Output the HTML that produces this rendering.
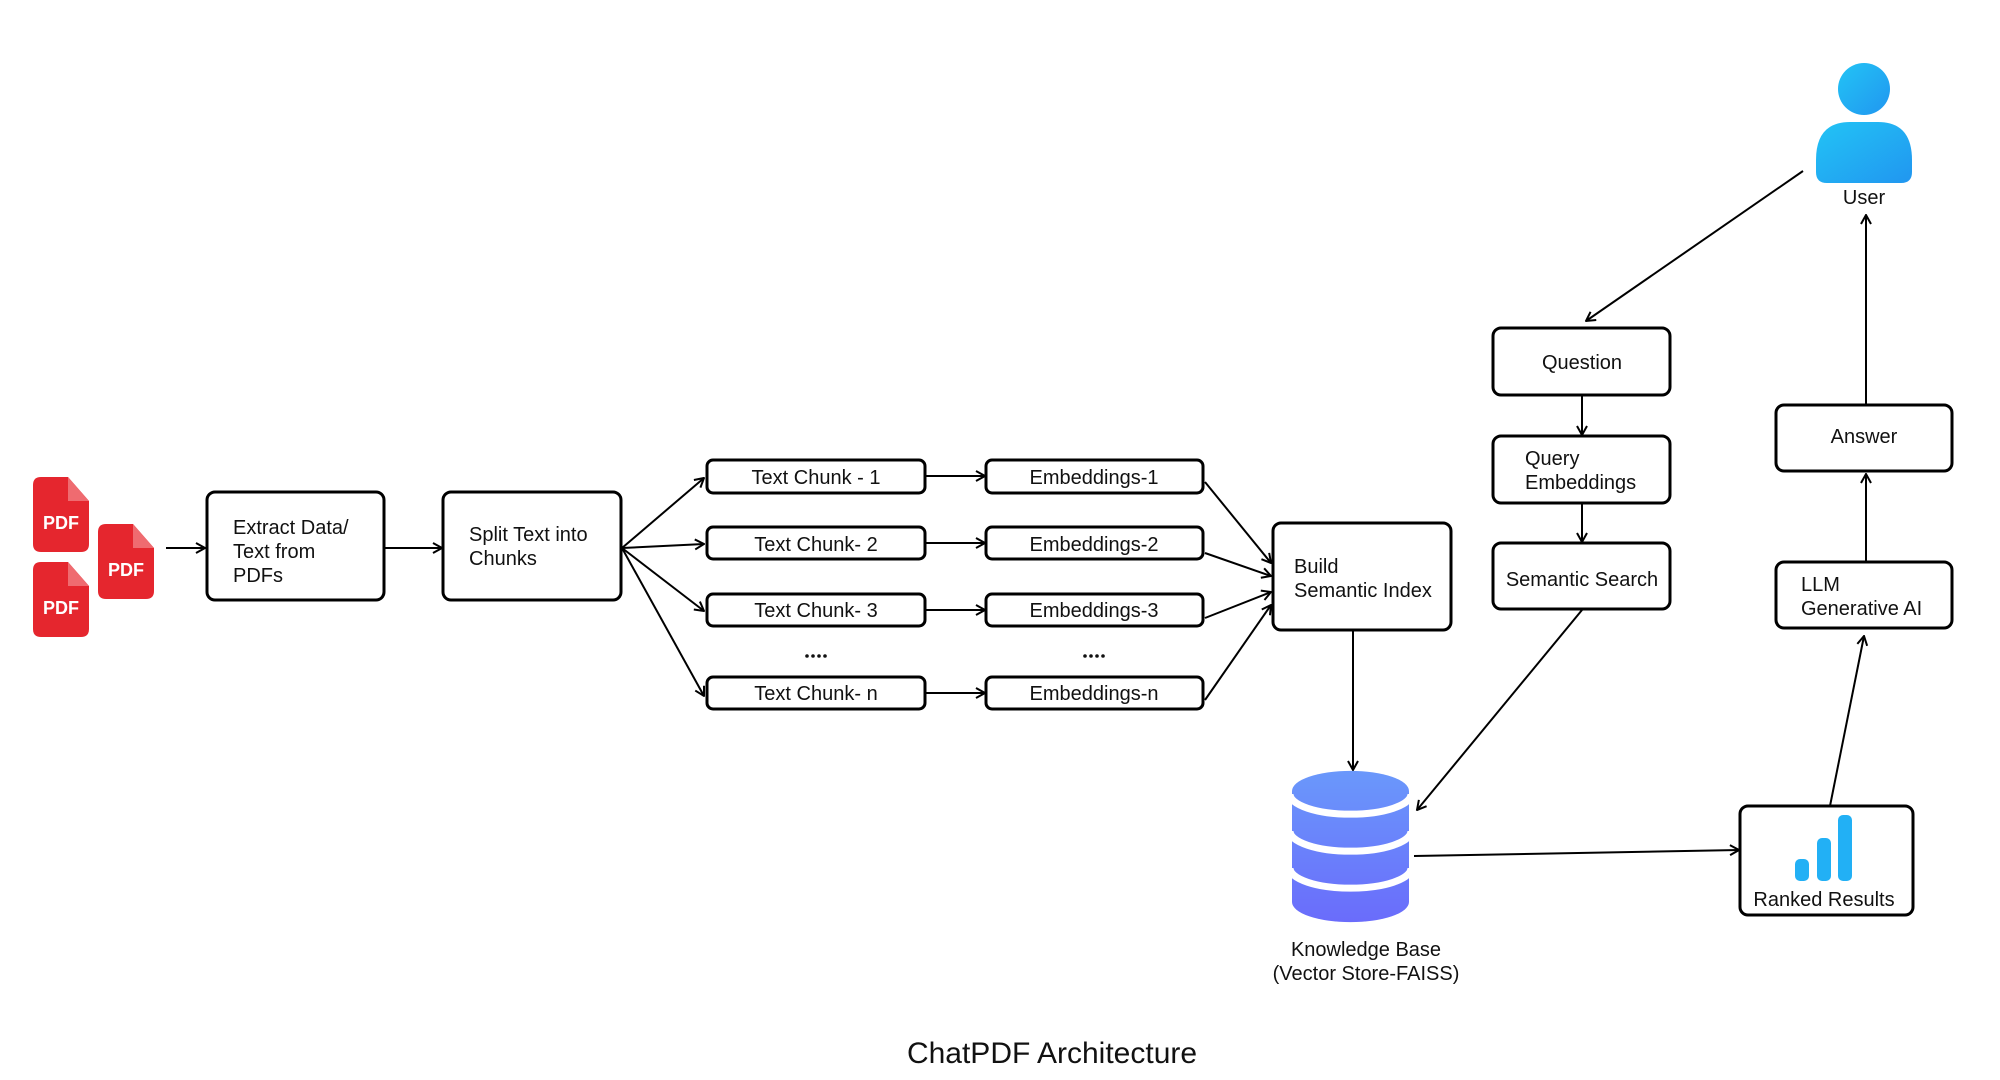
<!DOCTYPE html>
<html><head><meta charset="utf-8"><style>
html,body{margin:0;padding:0;background:#fff;}
svg{display:block;}
text{font-family:"Liberation Sans",sans-serif;fill:#111;}
</style></head><body>
<svg width="2000" height="1080" viewBox="0 0 2000 1080" xmlns="http://www.w3.org/2000/svg">
<defs>
<marker id="a" viewBox="0 0 12 12" refX="11" refY="6" markerWidth="12" markerHeight="12" markerUnits="userSpaceOnUse" orient="auto">
<path d="M2,1 L11,6 L2,11" fill="none" stroke="#000" stroke-width="2"/>
</marker>
<linearGradient id="db" x1="0" y1="0" x2="0" y2="1"><stop offset="0" stop-color="#6a98fb"/><stop offset="1" stop-color="#6a6cfb"/></linearGradient>
<linearGradient id="us" x1="0" y1="0" x2="1" y2="1"><stop offset="0" stop-color="#22c4f5"/><stop offset="1" stop-color="#2196f0"/></linearGradient>
<g id="pdf">
<path d="M8,0 H35 L56,24 V67 Q56,75 48,75 H8 Q0,75 0,67 V8 Q0,0 8,0 Z" fill="#e5262e"/>
<path d="M35,0 L56,24 H35 Z" fill="#ef6b70"/>
<text x="28" y="52" text-anchor="middle" font-size="18" font-weight="bold" style="fill:#fff">PDF</text>
</g>
<g id="dots"><circle cx="-9" cy="0" r="1.8" fill="#111"/><circle cx="-3" cy="0" r="1.8" fill="#111"/><circle cx="3" cy="0" r="1.8" fill="#111"/><circle cx="9" cy="0" r="1.8" fill="#111"/></g>
</defs>

<use href="#pdf" x="33" y="477"/>
<use href="#pdf" x="98" y="524"/>
<use href="#pdf" x="33" y="562"/>

<g fill="none" stroke="#000" stroke-width="2">
<line x1="166" y1="548" x2="205" y2="548" marker-end="url(#a)"/>
<line x1="385" y1="548" x2="442" y2="548" marker-end="url(#a)"/>
<line x1="622" y1="548" x2="704" y2="478" marker-end="url(#a)"/>
<line x1="622" y1="548" x2="704" y2="544" marker-end="url(#a)"/>
<line x1="622" y1="548" x2="704" y2="611" marker-end="url(#a)"/>
<line x1="622" y1="548" x2="704" y2="696" marker-end="url(#a)"/>
<line x1="926" y1="476" x2="985" y2="476" marker-end="url(#a)"/>
<line x1="926" y1="543" x2="985" y2="543" marker-end="url(#a)"/>
<line x1="926" y1="610" x2="985" y2="610" marker-end="url(#a)"/>
<line x1="926" y1="693" x2="985" y2="693" marker-end="url(#a)"/>
<line x1="1205" y1="482" x2="1271" y2="563" marker-end="url(#a)"/>
<line x1="1205" y1="553" x2="1271" y2="576" marker-end="url(#a)"/>
<line x1="1205" y1="618" x2="1271" y2="592" marker-end="url(#a)"/>
<line x1="1205" y1="700" x2="1271" y2="605" marker-end="url(#a)"/>
<line x1="1353" y1="631" x2="1353" y2="770" marker-end="url(#a)"/>
<line x1="1803" y1="171" x2="1586" y2="321" marker-end="url(#a)"/>
<line x1="1582" y1="396" x2="1582" y2="435" marker-end="url(#a)"/>
<line x1="1582" y1="504" x2="1582" y2="542" marker-end="url(#a)"/>
<line x1="1582" y1="610" x2="1417" y2="810" marker-end="url(#a)"/>
<line x1="1414" y1="856" x2="1739" y2="850" marker-end="url(#a)"/>
<line x1="1830" y1="806" x2="1864" y2="636" marker-end="url(#a)"/>
<line x1="1866" y1="562" x2="1866" y2="474" marker-end="url(#a)"/>
<line x1="1866" y1="405" x2="1866" y2="215" marker-end="url(#a)"/>
</g>

<g fill="#fff" stroke="#000" stroke-width="3">
<rect x="207" y="492" width="177" height="108" rx="8"/>
<rect x="443" y="492" width="178" height="108" rx="8"/>
<rect x="707" y="460" width="218" height="33" rx="6"/>
<rect x="707" y="527" width="218" height="32" rx="6"/>
<rect x="707" y="594" width="218" height="32" rx="6"/>
<rect x="707" y="677" width="218" height="32" rx="6"/>
<rect x="986" y="460" width="217" height="33" rx="6"/>
<rect x="986" y="527" width="217" height="32" rx="6"/>
<rect x="986" y="594" width="217" height="32" rx="6"/>
<rect x="986" y="677" width="217" height="32" rx="6"/>
<rect x="1273" y="523" width="178" height="107" rx="8"/>
<rect x="1493" y="328" width="177" height="67" rx="8"/>
<rect x="1493" y="436" width="177" height="67" rx="8"/>
<rect x="1493" y="543" width="177" height="66" rx="8"/>
<rect x="1776" y="405" width="176" height="66" rx="8"/>
<rect x="1776" y="562" width="176" height="66" rx="8"/>
<rect x="1740" y="806" width="173" height="109" rx="8"/>
</g>

<use href="#dots" x="816" y="656"/>
<use href="#dots" x="1094" y="656"/>

<g font-size="20">
<text x="233" y="534">Extract Data/</text>
<text x="233" y="558">Text from</text>
<text x="233" y="582">PDFs</text>
<text x="469" y="541">Split Text into</text>
<text x="469" y="565">Chunks</text>
<g text-anchor="middle">
<text x="816" y="484">Text Chunk - 1</text>
<text x="816" y="551">Text Chunk- 2</text>
<text x="816" y="617">Text Chunk- 3</text>
<text x="816" y="700">Text Chunk- n</text>
<text x="1094" y="484">Embeddings-1</text>
<text x="1094" y="551">Embeddings-2</text>
<text x="1094" y="617">Embeddings-3</text>
<text x="1094" y="700">Embeddings-n</text>
<text x="1582" y="369">Question</text>
<text x="1582" y="586">Semantic Search</text>
<text x="1864" y="443">Answer</text>
<text x="1824" y="906">Ranked Results</text>
<text x="1366" y="956">Knowledge Base</text>
<text x="1366" y="980">(Vector Store-FAISS)</text>
<text x="1864" y="204">User</text>
</g>
<text x="1294" y="573">Build</text>
<text x="1294" y="597">Semantic Index</text>
<text x="1525" y="465">Query</text>
<text x="1525" y="489">Embeddings</text>
<text x="1801" y="591">LLM</text>
<text x="1801" y="615">Generative AI</text>
</g>
<text x="1052" y="1063" font-size="30" text-anchor="middle">ChatPDF Architecture</text>

<path d="M1292,791 A58,20 0 0 1 1409,791 V902 A58,20 0 0 1 1292,902 Z" fill="url(#db)"/>
<g fill="none" stroke="#fff" stroke-width="7">
<path d="M1290,794 A60,20 0 0 0 1411,794"/>
<path d="M1290,831 A60,20 0 0 0 1411,831"/>
<path d="M1290,868 A60,20 0 0 0 1411,868"/>
</g>

<g fill="#22b0f5">
<rect x="1795" y="859" width="14" height="22" rx="5"/>
<rect x="1817" y="838" width="14" height="43" rx="5"/>
<rect x="1838" y="815" width="14" height="66" rx="5"/>
</g>

<circle cx="1864" cy="89" r="26" fill="url(#us)"/>
<path d="M1816,160 Q1816,122 1850,122 H1878 Q1912,122 1912,160 V172 Q1912,183 1901,183 H1827 Q1816,183 1816,172 Z" fill="url(#us)"/>
</svg>
</body></html>
